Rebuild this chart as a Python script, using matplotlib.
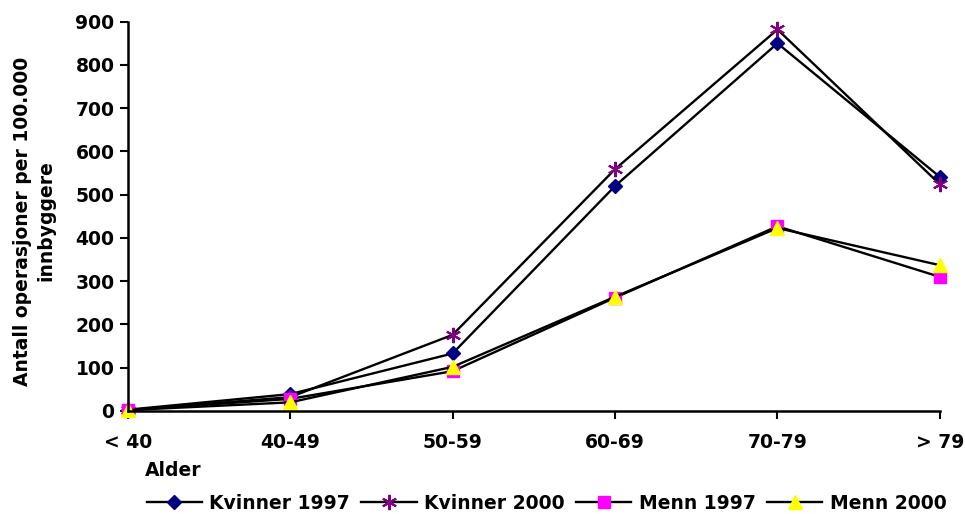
import matplotlib
matplotlib.use("Agg")
import matplotlib.pyplot as plt

categories = ["< 40", "40-49", "50-59", "60-69", "70-79", "> 79"]
kvinner_1997 = [3, 39, 133, 520, 850, 541]
kvinner_2000 = [2, 32, 176, 559, 882, 524]
menn_1997 = [2, 28, 92, 262, 427, 310]
menn_2000 = [2, 20, 102, 264, 423, 337]
yticks = [0, 100, 200, 300, 400, 500, 600, 700, 800, 900]

plt.rcParams['font.family'] = ['DejaVu Sans']
plt.rcParams['font.weight'] = 'bold'
FS = 13.5

fig = plt.figure(figsize=(9.65, 5.14), dpi=100)
ax = fig.add_axes([0.1323, 0.2004, 0.974 - 0.1323, 0.9578 - 0.2004])

x = list(range(len(categories)))
lw = 1.7
ax.plot(x, kvinner_1997, color='black', lw=lw, marker='D', ms=7,
        mfc='#000080', mec='#000080', label='Kvinner 1997')
ax.plot(x, kvinner_2000, color='black', lw=lw, marker=(6, 2, 0), ms=11,
        mfc='#800080', mec='#800080', mew=1.5, label='Kvinner 2000')
ax.plot(x, menn_1997, color='black', lw=lw, marker='s', ms=9,
        mfc='#FF00FF', mec='#FF00FF', label='Menn 1997')
ax.plot(x, menn_2000, color='black', lw=lw, marker='^', ms=10,
        mfc='#FFFF00', mec='#FFFF00', label='Menn 2000')

ax.set_xlim(0, len(categories) - 1)
ax.set_ylim(0, 900)
ax.set_xticks(x)
ax.set_xticklabels(categories)
ax.set_yticks(yticks)
ax.tick_params(axis='both', labelsize=FS, width=1.5, length=6, direction='out')
ax.tick_params(axis='x', pad=10)
for lab in ax.get_xticklabels() + ax.get_yticklabels():
    lab.set_fontweight('bold')

for s in ['top', 'right']:
    ax.spines[s].set_visible(False)
for s in ['left', 'bottom']:
    ax.spines[s].set_linewidth(1.8)
for line in ax.get_lines():
    line.set_clip_on(False)

fig.text(0.035, 0.57, "Antall operasjoner per 100.000\ninnbyggere", rotation=90,
         ha='center', va='center', fontsize=FS, fontweight='bold', linespacing=1.3,
         multialignment='center')
fig.text(0.150, 0.085, "Alder", ha='left', va='center', fontsize=FS, fontweight='bold')

leg = fig.legend(loc='center left', bbox_to_anchor=(0.152, 0.021), ncol=4, frameon=False,
                 fontsize=FS, handlelength=2.95, handletextpad=0.4, columnspacing=0.6,
                 borderaxespad=0, borderpad=0)
for t in leg.get_texts():
    t.set_fontweight('bold')

fig.savefig("out.png", dpi=100)
